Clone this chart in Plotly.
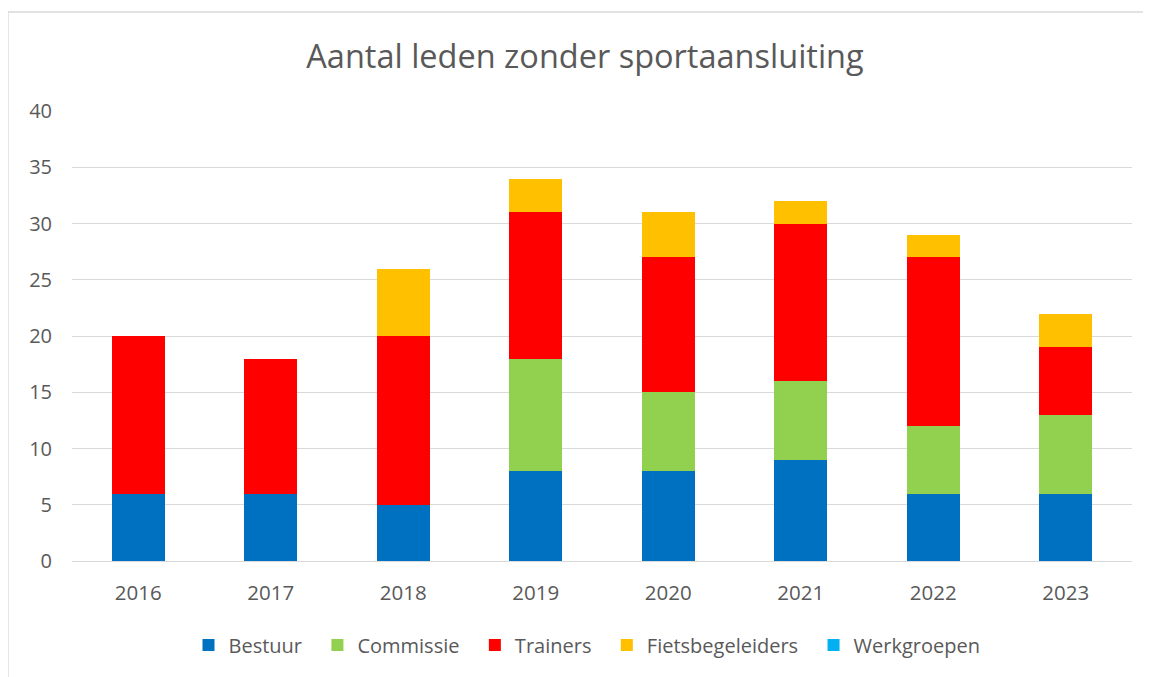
import plotly.graph_objects as go

years = ["2016", "2017", "2018", "2019", "2020", "2021", "2022", "2023"]
bestuur = [6, 6, 5, 8, 8, 9, 6, 6]
commissie = [0, 0, 0, 10, 7, 7, 6, 7]
trainers = [14, 12, 15, 13, 12, 14, 15, 6]
fietsbegeleiders = [0, 0, 6, 3, 4, 2, 2, 3]
werkgroepen = [0, 0, 0, 0, 0, 0, 0, 0]

series = [
    ("Bestuur", bestuur, "#0070C0"),
    ("Commissie", commissie, "#92D050"),
    ("Trainers", trainers, "#FF0000"),
    ("Fietsbegeleiders", fietsbegeleiders, "#FFC000"),
    ("Werkgroepen", werkgroepen, "#00B0F0"),
]

W, H = 1143, 669
L, R, T, B = 64, 19, 103, 116
PW, PH = W - L - R, H - T - B

font_family = "Open Sans, Liberation Sans, sans-serif"
pad = "\u00a0\u00a0"
fig = go.Figure()
for i, (name, vals, color) in enumerate(series):
    fig.add_trace(go.Bar(
        name=name + (pad if i < len(series) - 1 else ""), x=years, y=vals,
        marker=dict(color=color, line=dict(width=0)),
        width=0.4,
    ))

fig.update_layout(
    barmode="stack",
    width=W, height=H,
    margin=dict(l=L, r=R, t=T, b=B, pad=0, autoexpand=False),
    paper_bgcolor="white", plot_bgcolor="white",
    title=dict(text="Aantal leden zonder sportaansluiting", x=(585 - 8) / W, xanchor="center",
               y=1 - 49 / H, yanchor="middle",
               font=dict(family=font_family, size=32.5, color="#595959")),
    font=dict(family=font_family, color="#595959", size=20),
    xaxis=dict(showgrid=False, showline=False, ticks="", ticklabelstandoff=17, automargin=False,
               tickfont=dict(size=20.5, color="#595959")),
    yaxis=dict(range=[0, 40], dtick=5, showgrid=True, gridcolor="#D9D9D9", gridwidth=1.3,
               zeroline=True, zerolinecolor="#D9D9D9", zerolinewidth=1.3, automargin=False,
               ticks="", ticklabelstandoff=19, tickfont=dict(size=20, color="#595959")),
    legend=dict(orientation="h", x=(587 - 8 - L) / PW, xanchor="center",
                y=(PH + T - (645 - 8)) / PH, yanchor="middle",
                font=dict(size=20, color="#595959"), traceorder="normal",
                itemwidth=30),
    showlegend=True,
)
x0 = (0 - L) / PW
x1 = (W + 50 - L) / PW
y1 = 1 + (T - 4) / PH
fig.add_shape(type="path", xref="paper", yref="paper",
              path=f"M {x0} -1 L {x0} {y1} L {x1} {y1}",
              line=dict(color="#D9D9D9", width=1.3), layer="below")

fig.write_html("out.html")
